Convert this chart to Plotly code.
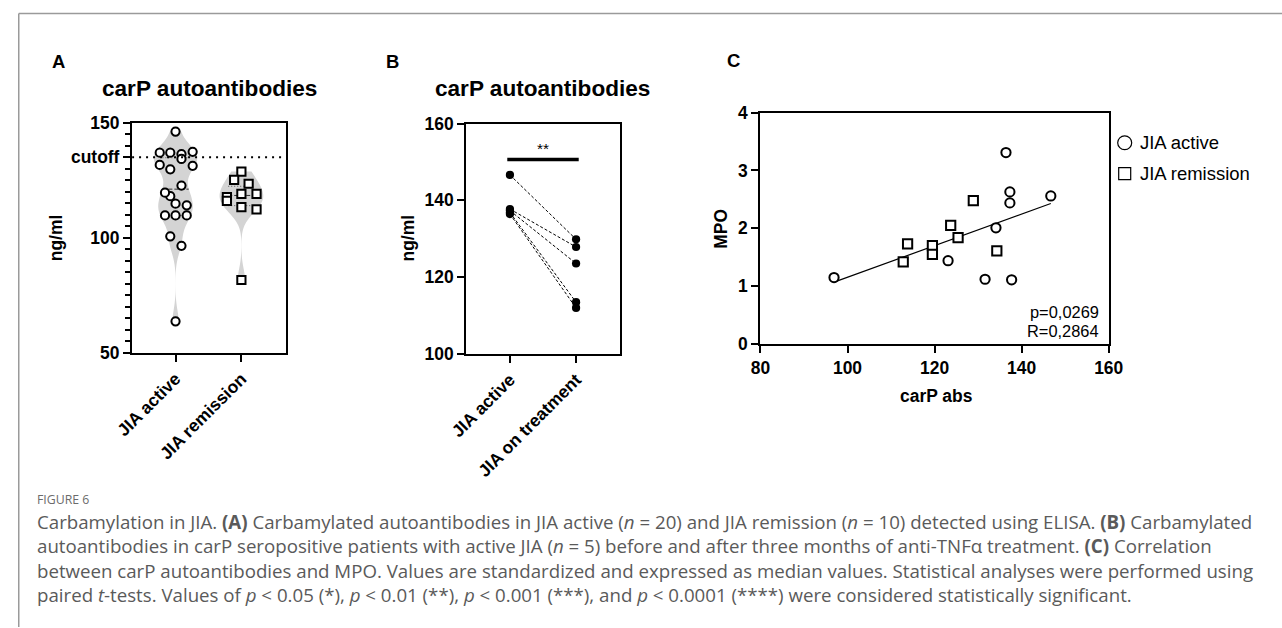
import numpy as np
import plotly.graph_objects as go

# The captured picture is the page scaled by ~0.974 with its origin shifted by
# about (17, 8.5) px; positions below are reference-picture pixels, converted.
S, AX, AY = 0.974, 17.0, 8.5
W = int(round((1282 - AX) / S)) + 1
H = int(round((628 - AY) / S)) + 1

# ---------------- data ----------------
# Panel A: carP autoantibodies (ng/ml)
a_categories = ["JIA active", "JIA remission"]
a_active = [146.2, 137.0, 137.0, 136.4, 137.4, 134.3, 131.7, 129.8, 131.3, 122.7,
            118.1, 119.6, 114.8, 114.1, 109.7, 109.7, 109.7, 100.6, 96.5, 63.6]
a_active_jitter = [0.0, -0.24, -0.08, 0.09, 0.26, 0.09, -0.24, -0.08, 0.26, 0.09,
                   -0.08, -0.16, 0.0, 0.17, -0.16, 0.0, 0.17, -0.08, 0.09, 0.0]
a_remission = [128.8, 125.2, 123.5, 117.7, 116.0, 119.1, 119.1, 113.3, 112.3, 81.6]
a_remission_jitter = [0.0, -0.11, 0.11, -0.22, -0.22, 0.0, 0.23, 0.0, 0.23, 0.0]
a_cutoff = 135
a_yticks = [50, 100, 135, 150]
a_yticktext = ["50", "100", "cutoff", "150"]

# Panel B: paired values before / after treatment
b_categories = ["JIA active", "JIA on treatment"]
b_before = [146.6, 137.7, 137.3, 136.8, 136.4]
b_after = [129.8, 127.8, 123.5, 113.4, 111.9]
b_sig_level = 150.6
b_sig_text = "**"
b_yticks = [100, 120, 140, 160]

# Panel C: MPO vs carP abs
c_active_x = [136.4, 137.3, 137.3, 146.7, 134.1, 123.1, 96.9, 131.6, 137.7]
c_active_y = [3.31, 2.63, 2.44, 2.56, 2.01, 1.44, 1.15, 1.12, 1.11]
c_remission_x = [128.9, 123.7, 125.4, 134.3, 119.5, 119.5, 113.8, 112.8]
c_remission_y = [2.48, 2.05, 1.84, 1.61, 1.70, 1.55, 1.73, 1.42]
c_xticks = [80, 100, 120, 140, 160]
c_yticks = [0, 1, 2, 3, 4]
c_stats = ["p=0,0269", "R=0,2864"]
c_legend = ["JIA active", "JIA remission"]

caption_lines = [
    "Carbamylation in JIA. <b>(A)</b> Carbamylated autoantibodies in JIA active (<i>n</i> = 20) and JIA remission (<i>n</i> = 10) detected using ELISA. <b>(B)</b> Carbamylated",
    "autoantibodies in carP seropositive patients with active JIA (<i>n</i> = 5) before and after three months of anti-TNFα treatment. <b>(C)</b> Correlation",
    "between carP autoantibodies and MPO. Values are standardized and expressed as median values. Statistical analyses were performed using",
    "paired <i>t</i>-tests. Values of <i>p</i> &lt; 0.05 (*), <i>p</i> &lt; 0.01 (**), <i>p</i> &lt; 0.001 (***), and <i>p</i> &lt; 0.0001 (****) were considered statistically significant.",
]

# ---------------- helpers ----------------
FONT = "Liberation Sans, Arial, sans-serif"
px = lambda x: min(max((x - AX) / S / W, 0), 1)
py = lambda y: min(max(1 - (y - AY) / S / H, 0), 1)
fs = lambda s: s / S

fig = go.Figure()

# ---------- Panel A ----------
for i, vals in enumerate([a_active, a_remission]):
    fig.add_trace(go.Violin(
        x=[i] * len(vals), y=vals, xaxis="x", yaxis="y",
        points=False, fillcolor="#d4d4d4", line=dict(color="#d4d4d4", width=0),
        width=0.66, scalemode="width", spanmode="hard", bandwidth=5,
        hoverinfo="skip", showlegend=False, box_visible=False, meanline_visible=False,
    ))
    med = float(np.median(vals))
    q1, q3 = np.percentile(vals, [25, 75])
    fig.add_trace(go.Scatter(x=[i - 0.2, i + 0.2], y=[med, med], mode="lines",
                             line=dict(color="#333", width=1, dash="4px,2px"),
                             xaxis="x", yaxis="y", showlegend=False, hoverinfo="skip"))
    for q in (q1, q3):
        fig.add_trace(go.Scatter(x=[i - 0.2, i + 0.2], y=[q, q], mode="lines",
                                 line=dict(color="#555", width=1, dash="1px,2px"),
                                 xaxis="x", yaxis="y", showlegend=False, hoverinfo="skip"))

fig.add_trace(go.Scatter(
    x=[0 + j for j in a_active_jitter], y=a_active, mode="markers", xaxis="x", yaxis="y",
    marker=dict(symbol="circle", size=fs(8), color="white", line=dict(color="black", width=2)),
    showlegend=False, cliponaxis=False))
fig.add_trace(go.Scatter(
    x=[1 + j for j in a_remission_jitter], y=a_remission, mode="markers", xaxis="x", yaxis="y",
    marker=dict(symbol="square", size=fs(8), color="white", line=dict(color="black", width=2)),
    showlegend=False, cliponaxis=False))
# cutoff line
fig.add_trace(go.Scatter(x=[-0.66, 1.68], y=[a_cutoff, a_cutoff], mode="lines",
                         line=dict(color="black", width=2, dash="2px,5px"),
                         xaxis="x", yaxis="y", showlegend=False, hoverinfo="skip"))

# ---------- Panel B ----------
for b0, b1 in zip(b_before, b_after):
    fig.add_trace(go.Scatter(x=[0, 1], y=[b0, b1], mode="lines",
                             line=dict(color="black", width=1, dash="3px,2px"),
                             xaxis="x2", yaxis="y2", showlegend=False, hoverinfo="skip"))
fig.add_trace(go.Scatter(x=[0] * len(b_before) + [1] * len(b_after), y=b_before + b_after,
                         mode="markers", marker=dict(size=fs(8), color="black"),
                         xaxis="x2", yaxis="y2", showlegend=False, cliponaxis=False))
fig.add_trace(go.Scatter(x=[-0.04, 1.04], y=[b_sig_level, b_sig_level], mode="lines",
                         line=dict(color="black", width=3.5),
                         xaxis="x2", yaxis="y2", showlegend=False, hoverinfo="skip"))

# ---------- Panel C ----------
all_x = np.array(c_active_x + c_remission_x)
all_y = np.array(c_active_y + c_remission_y)
slope, intercept = np.polyfit(all_x, all_y, 1)
xl = np.array([all_x.min(), all_x.max()])
fig.add_trace(go.Scatter(x=xl, y=slope * xl + intercept, mode="lines",
                         line=dict(color="black", width=1.2),
                         xaxis="x3", yaxis="y3", showlegend=False, hoverinfo="skip"))
fig.add_trace(go.Scatter(x=c_active_x, y=c_active_y, mode="markers", xaxis="x3", yaxis="y3",
                         marker=dict(symbol="circle", size=fs(9), color="white",
                                     line=dict(color="black", width=2)),
                         showlegend=False, cliponaxis=False))
fig.add_trace(go.Scatter(x=c_remission_x, y=c_remission_y, mode="markers", xaxis="x3", yaxis="y3",
                         marker=dict(symbol="square", size=fs(9), color="white",
                                     line=dict(color="black", width=2)),
                         showlegend=False, cliponaxis=False))

# ---------------- axes ----------------
tickfont = dict(family=FONT, size=fs(17), color="black", weight="bold")
base = dict(showline=True, linecolor="black", linewidth=2, mirror=True, ticks="outside",
            tickwidth=2, ticklen=fs(7), tickcolor="black", showgrid=False, zeroline=False,
            tickfont=tickfont, fixedrange=True)

fig.update_layout(
    width=W, height=H, autosize=False,
    margin=dict(l=0, r=0, t=0, b=0),
    paper_bgcolor="white", plot_bgcolor="rgba(0,0,0,0)",
    violinmode="overlay", showlegend=False,
    xaxis=dict(base, domain=[px(131), px(285)], anchor="y", range=[-0.66, 1.68],
               tickmode="array", tickvals=[0, 1], ticktext=a_categories, tickangle=-45),
    yaxis=dict(base, domain=[py(353), py(122)], anchor="x", range=[50, 150],
               tickmode="array", tickvals=a_yticks, ticktext=a_yticktext,
               minor=dict(tickmode="linear", tick0=50, dtick=5, ticks="outside",
                          ticklen=fs(5), tickwidth=1.5, tickcolor="black")),
    xaxis2=dict(base, domain=[px(465), px(619)], anchor="y2", range=[-0.66, 1.67],
                tickmode="array", tickvals=[0, 1], ticktext=b_categories, tickangle=-45),
    yaxis2=dict(base, domain=[py(354), py(122.7)], anchor="x2", range=[100, 160],
                tickmode="array", tickvals=b_yticks),
    xaxis3=dict(base, domain=[px(759), px(1107)], anchor="y3", range=[80, 160],
                tickmode="array", tickvals=c_xticks),
    yaxis3=dict(base, domain=[py(344.4), py(111.7)], anchor="x3", range=[0, 4],
                tickmode="array", tickvals=c_yticks),
)

# ---------------- annotations ----------------
ann = []
def text(x, y, s, size, bold=False, color="black", xanchor="center", yanchor="middle",
         angle=0, family=FONT):
    ann.append(dict(x=px(x), y=py(y), xref="paper", yref="paper", text=s, showarrow=False,
                    xanchor=xanchor, yanchor=yanchor, textangle=angle, borderpad=0,
                    align="left",
                    font=dict(family=family, size=fs(size), color=color,
                              weight="bold" if bold else "normal")))

# panel letters and titles
text(57, 60, "A", 18, True)
text(391, 60, "B", 18, True)
text(732, 59, "C", 18, True)
text(208, 87, "carP autoantibodies", 22, True)
text(541, 87, "carP autoantibodies", 22, True)
# axis titles
text(55, 238, "ng/ml", 17, True, angle=-90)
text(407, 238, "ng/ml", 17, True, angle=-90)
text(720, 228, "MPO", 17, True, angle=-90)
text(934, 397, "carP abs", 17, True)
# significance stars
ann.append(dict(x=0.5, y=b_sig_level, xref="x2", yref="y2", text=b_sig_text, showarrow=False,
                yanchor="bottom", yshift=1, font=dict(family=FONT, size=fs(15), color="black")))
# stats
text(1098, 312, c_stats[0], 16, xanchor="right")
text(1098, 331, c_stats[1], 16, xanchor="right")
# legend text
text(1137, 142, c_legend[0], 18, xanchor="left")
text(1137, 173, c_legend[1], 18, xanchor="left")
# caption
text(35, 501, "FIGURE 6", 12, color="#6b6b6b", xanchor="left", family="Open Sans, sans-serif")
text(35, 509, "<br>".join(caption_lines), 18.2, color="#5a5a5a", xanchor="left",
     yanchor="top", family="Open Sans, sans-serif")

fig.update_layout(annotations=ann)

# frame + legend symbols
fig.update_layout(shapes=[
    dict(type="line", xref="paper", yref="paper", x0=0.0006, x1=1, y0=py(12), y1=py(12),
         line=dict(color="#9a9a9a", width=1.5)),
    dict(type="line", xref="paper", yref="paper", x0=0.0006, x1=0.0006,
         y0=py(12), y1=0, line=dict(color="#9a9a9a", width=1.5)),
    dict(type="circle", xref="paper", yref="paper", x0=px(1116), x1=px(1130),
         y0=py(149), y1=py(135), line=dict(color="black", width=1.2)),
    dict(type="rect", xref="paper", yref="paper", x0=px(1117), x1=px(1129),
         y0=py(179), y1=py(167), line=dict(color="black", width=1.2)),
])

fig.write_html("out.html")
